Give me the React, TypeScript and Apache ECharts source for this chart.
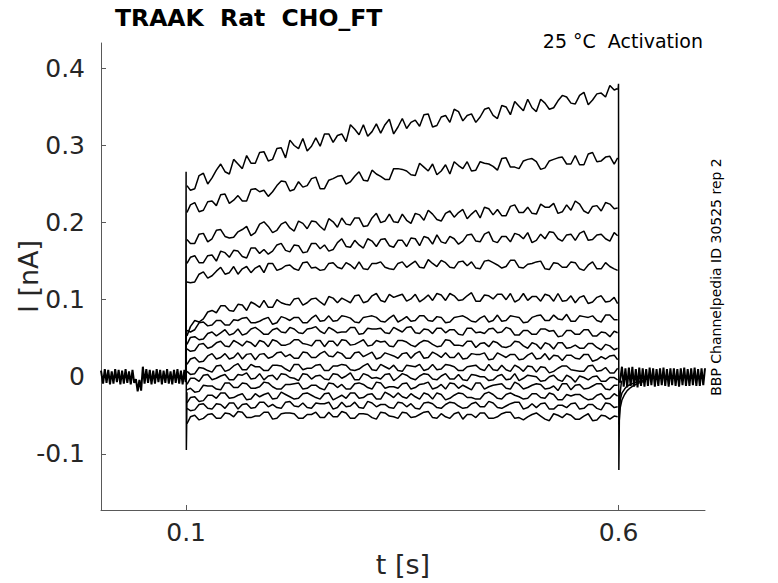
import React, { useEffect, useRef } from "react";
import * as echarts from "echarts";

// time samples [s]
const PULSE_T = [0.101, 0.11, 0.12, 0.13, 0.14, 0.15, 0.16, 0.17, 0.18, 0.19, 0.2, 0.21, 0.22, 0.23, 0.24, 0.25, 0.26, 0.27, 0.28, 0.29, 0.3, 0.31, 0.32, 0.33, 0.34, 0.35, 0.36, 0.37, 0.38, 0.39, 0.4, 0.41, 0.42, 0.43, 0.44, 0.45, 0.46, 0.47, 0.48, 0.49, 0.5, 0.51, 0.52, 0.53, 0.54, 0.55, 0.56, 0.57, 0.58, 0.59, 0.599];
const MID_T = [0.105, 0.115, 0.125, 0.135, 0.145, 0.155, 0.165, 0.175, 0.185, 0.195, 0.205, 0.215, 0.225, 0.235, 0.245, 0.255, 0.265, 0.275, 0.285, 0.295, 0.305, 0.315, 0.325, 0.335, 0.345, 0.355, 0.365, 0.375, 0.385, 0.395, 0.405, 0.415, 0.425, 0.435, 0.445, 0.455, 0.465, 0.475, 0.485, 0.495, 0.505, 0.515, 0.525, 0.535, 0.545, 0.555, 0.565, 0.575, 0.585, 0.595];
const BASE_T = [0.0016, 0.004, 0.006, 0.008, 0.01, 0.012, 0.014, 0.016, 0.018, 0.02, 0.022, 0.024, 0.026, 0.028, 0.03, 0.032, 0.034, 0.036, 0.038, 0.04, 0.042, 0.044, 0.046, 0.048, 0.05, 0.052, 0.054, 0.056, 0.058, 0.06, 0.062, 0.064, 0.066, 0.068, 0.07, 0.072, 0.074, 0.076, 0.078, 0.08, 0.082, 0.084, 0.086, 0.088, 0.09, 0.092, 0.094, 0.096, 0.098, 0.0995];
const POST_T = [0.6015, 0.604, 0.606, 0.608, 0.61, 0.612, 0.614, 0.616, 0.618, 0.62, 0.622, 0.624, 0.626, 0.628, 0.63, 0.632, 0.634, 0.636, 0.638, 0.64, 0.642, 0.644, 0.646, 0.648, 0.65, 0.652, 0.654, 0.656, 0.658, 0.66, 0.662, 0.664, 0.666, 0.668, 0.67, 0.672, 0.674, 0.676, 0.678, 0.68, 0.682, 0.684, 0.686, 0.688, 0.69, 0.692, 0.694, 0.696, 0.698, 0.7];
const TAIL_T = [0.6005, 0.602, 0.604, 0.607, 0.61, 0.614, 0.618, 0.624, 0.63];
const ON_T = [0.0995, 0.1, 0.1003, 0.1007, 0.101];
const OFF_T = [0.5995, 0.6, 0.6004, 0.601, 0.602, 0.6035];

// currents [pA]
const BASE_I = [8, -9, 10, -8, 9, -10, 7, -9, 10, -7, 9, -10, 8, -9, 10, -8, 7, -10, 9, -8, -3, -19, -4, -18, 13, -9, 10, -8, 9, -10, 8, -9, 10, -7, 9, -10, 8, -8, 10, -9, 7, -10, 9, -8, 10, -9, 8, -10, 9, -7];
const POST_I = [-8, 13, -13, 11, -14, 12, -12, 13, -13, 10, -14, 12, -12, 11, -13, 10, -12, 12, -11, 11, -13, 10, -12, 11, -11, 12, -12, 10, -13, 11, -11, 11, -12, 10, -13, 11, -11, 12, -12, 10, -12, 11, -11, 12, -12, 10, -12, 11, -11, 11];
const TAIL_A = [-62, -40, -30, -23, -18, -14, -11, -8, -6];
const TAIL_B = [-48, -30, -21, -16, -12, -10, -8, -6, -5];
const ON_I = [0, 266, -95, -60, -20];
const OFF_I = [372, 380, -121, -50, -20, -5];

const TRACE_01 = [248, 244, 264, 258, 276, 263, 276, 287, 277, 292, 282, 297, 307, 296, 293, 310, 315, 304, 315, 327, 314, 312, 328, 327, 315, 335, 330, 325, 341, 326, 339, 347, 332, 341, 337, 349, 335, 350, 357, 345, 349, 360, 347, 358, 363, 354, 369, 359, 368, 378, 374];
const TRACE_01_MID = [242, 261, 250, 268, 266, 282, 270, 277, 291, 280, 296, 284, 300, 309, 299, 299, 315, 313, 305, 321, 327, 318, 316, 334, 324, 322, 333, 340, 324, 337, 330, 344, 339, 330, 347, 339, 352, 340, 351, 360, 344, 355, 349, 365, 355, 365, 353, 367, 363, 372];
const TRACE_02 = [213, 226, 216, 228, 236, 225, 235, 228, 244, 242, 240, 254, 241, 253, 248, 259, 244, 257, 261, 253, 266, 254, 263, 256, 270, 269, 262, 277, 267, 262, 275, 279, 270, 267, 279, 276, 268, 284, 272, 280, 283, 269, 280, 284, 276, 287, 275, 291, 280, 286, 284];
const TRACE_02_MID = [223, 214, 227, 222, 237, 229, 228, 243, 240, 234, 248, 253, 243, 246, 257, 244, 255, 260, 250, 260, 255, 268, 260, 256, 270, 267, 261, 272, 276, 267, 263, 274, 279, 268, 277, 273, 283, 272, 270, 282, 279, 271, 282, 285, 276, 275, 289, 279, 285, 276];
const TRACE_03 = [178, 173, 186, 179, 191, 180, 188, 195, 187, 201, 187, 198, 193, 202, 192, 201, 190, 201, 206, 197, 206, 196, 212, 202, 201, 211, 199, 210, 216, 204, 212, 207, 217, 211, 206, 218, 217, 209, 223, 213, 212, 224, 220, 212, 223, 228, 215, 221, 215, 224, 219];
const TRACE_03_MID = [173, 185, 175, 190, 182, 181, 191, 183, 198, 195, 190, 201, 189, 199, 202, 195, 205, 194, 198, 206, 195, 206, 200, 211, 200, 203, 212, 203, 211, 202, 215, 213, 205, 216, 220, 210, 209, 221, 213, 220, 211, 220, 225, 214, 216, 224, 212, 222, 226, 218];
const TRACE_04 = [147, 157, 148, 158, 163, 155, 163, 154, 167, 165, 163, 173, 162, 170, 162, 173, 171, 165, 179, 168, 171, 179, 169, 179, 168, 177, 180, 170, 180, 184, 173, 179, 176, 185, 175, 188, 174, 182, 186, 179, 174, 185, 188, 179, 184, 177, 189, 178, 185, 176, 183];
const TRACE_04_MID = [155, 148, 157, 150, 161, 164, 156, 167, 160, 159, 171, 164, 171, 161, 173, 166, 163, 174, 169, 177, 167, 176, 178, 170, 177, 169, 179, 182, 172, 175, 182, 172, 184, 176, 185, 176, 182, 175, 184, 187, 177, 179, 187, 176, 185, 186, 177, 184, 179, 187];
const TRACE_05 = [123, 123, 136, 131, 142, 135, 133, 143, 141, 135, 147, 140, 145, 138, 149, 142, 139, 148, 140, 145, 149, 139, 147, 142, 139, 149, 146, 142, 152, 143, 148, 141, 150, 149, 140, 151, 145, 143, 151, 141, 147, 150, 139, 147, 142, 148, 138, 149, 140, 143, 138];
const TRACE_05_MID = [122, 133, 128, 137, 133, 143, 140, 135, 144, 147, 138, 144, 140, 148, 141, 138, 147, 142, 148, 140, 140, 147, 149, 140, 147, 142, 150, 141, 147, 151, 142, 149, 144, 141, 150, 148, 141, 151, 142, 146, 149, 140, 148, 142, 149, 140, 145, 140, 148, 140];
const TRACE_06 = [53, 73, 75, 86, 92, 86, 94, 86, 94, 99, 90, 96, 93, 102, 96, 102, 93, 102, 102, 96, 106, 98, 108, 97, 103, 107, 101, 97, 106, 108, 99, 105, 100, 109, 98, 105, 107, 100, 97, 108, 104, 98, 105, 108, 99, 96, 105, 97, 105, 98, 95];
const TRACE_06_MID = [65, 71, 84, 83, 92, 85, 93, 97, 90, 90, 100, 94, 101, 93, 101, 97, 104, 96, 99, 105, 96, 105, 99, 107, 105, 98, 107, 101, 99, 106, 108, 99, 105, 98, 106, 101, 107, 108, 100, 99, 104, 107, 98, 98, 105, 103, 95, 103, 97, 103];
const TRACE_07 = [60, 61, 71, 67, 73, 67, 73, 77, 70, 75, 68, 78, 73, 77, 70, 80, 73, 72, 79, 76, 70, 78, 77, 71, 80, 74, 72, 79, 73, 78, 70, 77, 79, 72, 76, 71, 80, 73, 78, 70, 77, 80, 73, 75, 81, 72, 78, 79, 71, 80, 74];
const TRACE_07_MID = [58, 70, 66, 73, 67, 74, 76, 70, 72, 77, 70, 76, 77, 70, 76, 72, 79, 73, 78, 71, 77, 79, 72, 76, 71, 78, 73, 79, 72, 77, 71, 78, 76, 71, 79, 73, 72, 79, 77, 71, 79, 73, 80, 74, 72, 79, 77, 73, 80, 74];
const TRACE_08 = [42, 52, 49, 58, 57, 54, 62, 56, 64, 55, 61, 58, 64, 57, 62, 65, 56, 61, 58, 64, 55, 63, 62, 57, 64, 58, 65, 56, 61, 63, 57, 61, 54, 63, 58, 62, 57, 64, 54, 60, 55, 62, 59, 52, 60, 55, 61, 53, 58, 52, 57];
const TRACE_08_MID = [51, 48, 56, 53, 61, 56, 54, 62, 60, 55, 63, 57, 62, 56, 63, 59, 64, 57, 58, 64, 56, 62, 63, 56, 61, 64, 57, 62, 56, 63, 61, 55, 63, 57, 56, 63, 58, 62, 54, 60, 55, 62, 60, 53, 60, 55, 61, 53, 57, 59];
const TRACE_09 = [36, 34, 43, 39, 46, 39, 44, 46, 39, 45, 48, 41, 43, 48, 42, 47, 39, 46, 48, 41, 45, 40, 47, 46, 39, 47, 41, 44, 46, 39, 48, 41, 40, 46, 43, 39, 44, 38, 46, 40, 44, 36, 42, 44, 37, 41, 37, 43, 35, 40, 37];
const TRACE_09_MID = [33, 42, 37, 44, 40, 47, 40, 44, 47, 39, 46, 41, 48, 43, 40, 47, 46, 40, 47, 42, 48, 41, 45, 40, 47, 45, 39, 47, 42, 40, 47, 41, 46, 38, 44, 46, 39, 40, 45, 37, 42, 44, 36, 44, 38, 37, 43, 38, 42, 35];
const TRACE_10 = [16, 25, 20, 30, 25, 23, 31, 29, 22, 30, 26, 32, 29, 24, 31, 25, 33, 26, 30, 24, 32, 29, 23, 31, 27, 30, 24, 33, 25, 29, 31, 25, 23, 30, 29, 22, 31, 25, 29, 23, 31, 24, 22, 27, 28, 24, 29, 20, 26, 27, 22];
const TRACE_10_MID = [23, 19, 27, 23, 30, 25, 23, 30, 29, 24, 31, 26, 24, 32, 25, 30, 27, 32, 24, 31, 26, 32, 25, 29, 24, 31, 30, 24, 32, 25, 25, 31, 24, 29, 31, 23, 28, 29, 22, 28, 23, 30, 28, 21, 28, 23, 29, 22, 23, 28];
const TRACE_11 = [7, 4, 11, 6, 15, 9, 17, 9, 13, 8, 15, 14, 7, 16, 11, 15, 8, 14, 16, 9, 10, 17, 8, 13, 15, 7, 14, 16, 10, 9, 16, 13, 8, 14, 10, 16, 8, 9, 15, 7, 13, 13, 5, 11, 14, 8, 7, 15, 8, 5, 11];
const TRACE_11_MID = [3, 12, 8, 14, 7, 14, 9, 16, 13, 8, 15, 10, 16, 9, 11, 16, 8, 14, 15, 8, 14, 9, 16, 10, 8, 15, 13, 8, 16, 10, 15, 8, 13, 15, 8, 9, 15, 7, 12, 14, 6, 12, 7, 14, 9, 7, 14, 7, 12, 5];
const TRACE_12 = [-10, -2, 2, -4, 1, -4, 3, 5, -2, -4, 2, 4, -1, -5, 3, 1, -3, 4, -2, 5, -4, 2, -1, 3, -5, 4, -2, 1, 3, -4, 4, -3, -4, 3, 0, -5, 1, -4, 4, -2, 1, -6, 0, -4, 2, -7, -1, 0, -6, -1, -4];
const TRACE_12_MID = [-2, -6, 3, -2, 3, -4, 2, -3, 4, 1, -4, 3, -2, 4, -3, 2, -4, 3, 1, -4, 4, -2, -3, 4, -1, 2, -4, 4, -3, 1, -3, 3, -5, 2, 0, -4, 3, -3, -5, 2, 0, -5, 2, -6, -1, 1, -4, 1, -6, -1];
const TRACE_13 = [-17, -20, -11, -12, -17, -8, -14, -9, -15, -7, -13, -16, -10, -8, -15, -11, -17, -9, -10, -16, -8, -14, -7, -15, -13, -9, -16, -10, -7, -14, -16, -9, -11, -17, -8, -13, -10, -15, -7, -16, -11, -10, -15, -18, -9, -11, -16, -12, -9, -17, -11];
const TRACE_13_MID = [-15, -19, -12, -16, -8, -14, -8, -15, -13, -8, -16, -10, -9, -16, -11, -15, -8, -14, -16, -9, -10, -16, -8, -13, -15, -8, -14, -9, -16, -10, -8, -15, -14, -8, -16, -11, -9, -16, -10, -14, -9, -16, -12, -9, -17, -10, -15, -9, -16, -11];
const TRACE_14 = [-34, -26, -31, -24, -21, -28, -24, -30, -22, -23, -29, -20, -26, -28, -21, -27, -22, -30, -24, -21, -28, -23, -29, -20, -27, -26, -22, -29, -23, -21, -30, -24, -22, -27, -29, -20, -28, -23, -24, -29, -22, -27, -21, -30, -23, -23, -27, -29, -22, -28, -25];
const TRACE_14_MID = [-27, -32, -24, -28, -21, -27, -22, -29, -26, -21, -28, -23, -29, -22, -24, -29, -21, -27, -28, -21, -27, -22, -29, -23, -21, -28, -26, -21, -29, -23, -28, -21, -27, -29, -22, -23, -29, -21, -26, -28, -22, -28, -23, -30, -25, -23, -30, -24, -29, -22];
const TRACE_15 = [-41, -43, -35, -42, -36, -34, -42, -35, -40, -33, -36, -41, -32, -39, -40, -34, -35, -42, -33, -38, -40, -32, -39, -36, -41, -34, -35, -42, -33, -40, -36, -34, -41, -35, -39, -32, -40, -38, -33, -42, -35, -35, -42, -37, -40, -34, -41, -36, -43, -35, -39];
const TRACE_15_MID = [-44, -36, -41, -35, -41, -34, -36, -41, -33, -39, -40, -33, -38, -34, -41, -35, -33, -40, -39, -33, -41, -34, -36, -40, -33, -39, -41, -34, -35, -41, -33, -38, -40, -33, -39, -34, -41, -35, -33, -40, -40, -34, -42, -37, -35, -42, -36, -41, -34, -40];
const TRACE_16 = [-61, -50, -54, -48, -54, -48, -45, -53, -51, -46, -55, -48, -47, -54, -49, -46, -53, -52, -45, -54, -48, -49, -55, -47, -52, -46, -53, -49, -45, -54, -52, -48, -55, -49, -47, -54, -52, -46, -54, -56, -49, -51, -57, -50, -48, -55, -51, -57, -50, -55, -52];
const TRACE_16_MID = [-52, -56, -49, -54, -47, -52, -46, -53, -51, -46, -54, -47, -48, -54, -49, -53, -46, -52, -47, -54, -48, -53, -46, -51, -54, -47, -52, -46, -53, -48, -54, -46, -49, -53, -47, -54, -48, -46, -53, -52, -47, -55, -48, -53, -50, -55, -48, -56, -51, -51];

const TRACES = [TRACE_01, TRACE_02, TRACE_03, TRACE_04, TRACE_05, TRACE_06, TRACE_07, TRACE_08, TRACE_09, TRACE_10, TRACE_11, TRACE_12, TRACE_13, TRACE_14, TRACE_15, TRACE_16];
const TRACES_MID = [TRACE_01_MID, TRACE_02_MID, TRACE_03_MID, TRACE_04_MID, TRACE_05_MID, TRACE_06_MID, TRACE_07_MID, TRACE_08_MID, TRACE_09_MID, TRACE_10_MID, TRACE_11_MID, TRACE_12_MID, TRACE_13_MID, TRACE_14_MID, TRACE_15_MID, TRACE_16_MID];

const X_TICKS = [0.1, 0.6];
const Y_TICKS = [-0.1, 0, 0.1, 0.2, 0.3, 0.4];

const FONT = "DejaVu Sans";

export default function App() {
  const ref = useRef<HTMLDivElement>(null);
  useEffect(() => {
    document.body.style.margin = "0";
    const chart = echarts.init(ref.current as HTMLDivElement, null, { renderer: "svg" });
    const pair = (ts: number[], vs: number[]) => ts.map((t, i) => [t, vs[i] / 1000]);
    const interleave = (a: number[], b: number[]) => {
      const out: number[][] = [];
      PULSE_T.forEach((t, i) => {
        out.push([t, a[i] / 1000]);
        if (i < MID_T.length) out.push([MID_T[i], b[i] / 1000]);
      });
      return out;
    };
    const line = (data: number[][], width = 1.5) => ({
      type: "line",
      data,
      showSymbol: false,
      symbol: "none",
      silent: true,
      lineStyle: { color: "#000", width },
    });
    const series: any[] = [
      line(pair(BASE_T, BASE_I), 2),
      line(pair(POST_T, POST_I), 2),
      line(pair(TAIL_T, TAIL_A)),
      line(pair(TAIL_T, TAIL_B)),
      line(pair(ON_T, ON_I)),
      line(pair(OFF_T, OFF_I)),
      ...TRACES.map((tr, k) => line(interleave(tr, TRACES_MID[k]))),
    ];
    chart.setOption({
      animation: false,
      textStyle: { fontFamily: FONT },
      grid: { left: 101, right: 73, top: 43, bottom: 71 },
      xAxis: {
        type: "value",
        min: 0.0016,
        max: 0.7,
        name: "t [s]",
        nameLocation: "middle",
        nameGap: 41,
        nameMoveOverlap: false,
        nameTextStyle: { fontSize: 27, color: "#262626", fontFamily: FONT },
        axisLine: { show: true, onZero: false, lineStyle: { color: "#595959", width: 1 } },
        axisTick: { show: true, inside: true, length: 5, customValues: X_TICKS, lineStyle: { color: "#595959" } },
        axisLabel: {
          customValues: X_TICKS,
          fontSize: 25,
          color: "#262626",
          margin: 10,
          fontFamily: FONT,
          formatter: (v: number) => String(v),
        },
        splitLine: { show: false },
      },
      yAxis: {
        type: "value",
        min: -0.1729,
        max: 0.433,
        name: "I [nA]",
        nameLocation: "middle",
        nameGap: 59,
        nameRotate: 90,
        nameMoveOverlap: false,
        nameTextStyle: { fontSize: 27, color: "#262626", fontFamily: FONT },
        axisLine: { show: true, onZero: false, lineStyle: { color: "#595959", width: 1 } },
        axisTick: { show: true, inside: true, length: 5, customValues: Y_TICKS, lineStyle: { color: "#595959" } },
        axisLabel: {
          customValues: Y_TICKS,
          fontSize: 25,
          color: "#262626",
          margin: 16,
          fontFamily: FONT,
          formatter: (v: number) => (v === 0 ? "0" : String(v)),
        },
        splitLine: { show: false },
      },
      graphic: [
        {
          type: "text",
          x: 115,
          y: 18,
          style: {
            text: "TRAAK  Rat  CHO_FT",
            fontSize: 23.5,
            fontWeight: "bold",
            fontFamily: FONT,
            fill: "#000",
            textAlign: "left",
            textVerticalAlign: "middle",
          },
        },
        {
          type: "text",
          x: 703,
          y: 41,
          style: {
            text: "25 °C  Activation",
            fontSize: 19,
            fontFamily: FONT,
            fill: "#000",
            textAlign: "right",
            textVerticalAlign: "middle",
          },
        },
        {
          type: "text",
          x: 716,
          y: 277,
          rotation: Math.PI / 2,
          style: {
            text: "BBP Channelpedia ID 30525 rep 2",
            fontSize: 14,
            fontFamily: FONT,
            fill: "#000",
            textAlign: "center",
            textVerticalAlign: "middle",
          },
        },
      ],
      series,
    });
    return () => chart.dispose();
  }, []);
  return <div ref={ref} style={{ width: 778, height: 583 }} />;
}
